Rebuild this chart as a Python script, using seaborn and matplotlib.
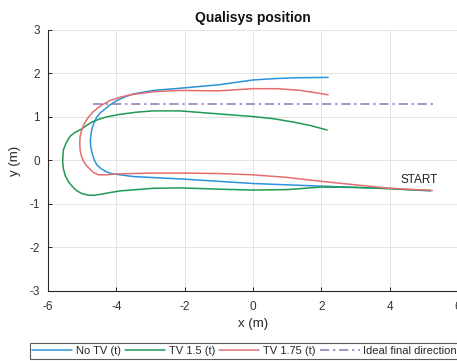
import numpy as np
import pandas as pd
import matplotlib
matplotlib.use("Agg")
import matplotlib.pyplot as plt
import seaborn as sns

# Trajectories measured by the Qualisys motion capture system (metres)
no_tv_x = [5.2, 4.5, 4.0, 3.0, 2.0, 1.0, 0.0, -1.0, -2.0, -3.0, -3.5, -3.89,
           -4.15, -4.32, -4.46, -4.57, -4.65, -4.71, -4.75, -4.76, -4.74, -4.71,
           -4.65, -4.57, -4.46, -4.32, -4.16, -3.98, -3.75, -3.5, -2.92, -2.14,
           -1.0, 0.0, 0.6, 1.2, 2.2]
no_tv_y = [-0.70, -0.67, -0.64, -0.62, -0.59, -0.56, -0.53, -0.48, -0.43, -0.39,
           -0.37, -0.33, -0.30, -0.25, -0.18, -0.10, 0.02, 0.17, 0.32, 0.47, 0.61,
           0.74, 0.87, 1.00, 1.10, 1.19, 1.29, 1.38, 1.46, 1.53, 1.61, 1.66,
           1.74, 1.85, 1.88, 1.90, 1.91]

tv15_x = [5.2, 4.5, 4.0, 3.0, 2.0, 1.0, 0.0, -1.0, -2.14, -2.92, -3.4, -3.89,
          -4.2, -4.47, -4.65, -4.81, -5.01, -5.15, -5.25, -5.38, -5.49, -5.55,
          -5.57, -5.56, -5.55, -5.47, -5.36, -5.22, -5.04, -4.88, -4.70, -4.50,
          -4.29, -3.90, -3.41, -2.92, -2.14, -1.0, 0.0, 0.6, 1.2, 1.7, 2.17]
tv15_y = [-0.69, -0.67, -0.65, -0.62, -0.61, -0.67, -0.68, -0.66, -0.63, -0.64,
          -0.67, -0.70, -0.74, -0.78, -0.80, -0.80, -0.76, -0.70, -0.63, -0.51,
          -0.36, -0.19, -0.02, 0.12, 0.24, 0.40, 0.55, 0.64, 0.71, 0.80, 0.89,
          0.95, 1.00, 1.06, 1.11, 1.14, 1.14, 1.07, 1.01, 0.96, 0.88, 0.80, 0.70]

tv175_x = [5.25, 4.5, 4.0, 3.0, 2.0, 1.0, 0.0, -1.0, -2.0, -3.0, -4.0, -4.3,
           -4.52, -4.66, -4.76, -4.87, -4.96, -5.02, -5.06, -5.07, -5.06, -5.02,
           -4.96, -4.89, -4.81, -4.70, -4.57, -4.39, -4.18, -3.90, -3.59, -2.92,
           -2.14, -1.0, 0.0, 0.7, 1.4, 2.2]
tv175_y = [-0.69, -0.66, -0.64, -0.56, -0.48, -0.39, -0.33, -0.30, -0.29, -0.29,
           -0.31, -0.33, -0.33, -0.28, -0.21, -0.12, -0.02, 0.10, 0.24, 0.40, 0.55,
           0.68, 0.81, 0.91, 1.00, 1.10, 1.19, 1.29, 1.38, 1.45, 1.51, 1.58, 1.61,
           1.60, 1.65, 1.65, 1.61, 1.51]

ideal_x = [-4.67, 5.3]
ideal_y = [1.3, 1.3]

series_names = ["No TV (t)", "TV 1.5 (t)", "TV 1.75 (t)", "Ideal final direction"]
series_colors = ["#2b93da", "#1f9a55", "#e36d6f", "#8a78b4"]

x_ticks = [-6, -4, -2, 0, 2, 4, 6]
y_ticks = [-3, -2, -1, 0, 1, 2, 3]

sns.set_theme(style="whitegrid")
plt.rcParams["font.family"] = ["Liberation Sans", "DejaVu Sans"]

fig = plt.figure(figsize=(4.57, 3.61), dpi=100)
ax = fig.add_axes([0.105, 0.194, 0.897, 0.723])

tracks = [(no_tv_x, no_tv_y), (tv15_x, tv15_y), (tv175_x, tv175_y)]
handles = []
for (xs, ys), name, col in zip(tracks, series_names[:3], series_colors[:3]):
    df = pd.DataFrame({"x": xs, "y": ys, "step": np.arange(len(xs))})
    sns.lineplot(data=df, x="x", y="y", sort=False, estimator=None,
                 color=col, lw=1.1, ax=ax)
    line = ax.lines[-1]
    line.set_solid_joinstyle("round")
    handles.append(line)

df_ideal = pd.DataFrame({"x": ideal_x, "y": ideal_y})
sns.lineplot(data=df_ideal, x="x", y="y", sort=False, estimator=None,
             color=series_colors[3], lw=1.1, ax=ax)
ideal_line = ax.lines[-1]
ideal_line.set_linestyle((0, (6, 2.5, 1.5, 2.5)))
handles.append(ideal_line)

ax.text(4.33, -0.44, "START", fontsize=8.5, color="#222222", ha="left", va="center")

ax.set_xlim(-6, 6)
ax.set_ylim(-3, 3)
ax.set_xticks(x_ticks)
ax.set_yticks(y_ticks)
ax.set_xticklabels([str(v) for v in x_ticks])
ax.set_yticklabels([str(v) for v in y_ticks])
ax.tick_params(axis="both", direction="in", length=3, width=0.7, color="#262626",
               labelcolor="#333333", labelsize=8.5, left=True, bottom=True)
ax.tick_params(axis="x", pad=7)
ax.tick_params(axis="y", pad=6)
ax.grid(True, color="#dedede", lw=0.6)
ax.set_facecolor("white")
for side in ["top", "right"]:
    ax.spines[side].set_visible(False)
for side in ["left", "bottom"]:
    ax.spines[side].set_visible(True)
    ax.spines[side].set_color("#262626")
    ax.spines[side].set_linewidth(0.8)

ax.set_xlabel("x (m)", fontsize=9.5, color="#262626", labelpad=4)
ax.set_ylabel("y (m)", fontsize=9.5, color="#262626", labelpad=6)
ax.set_title("Qualisys position", fontsize=10, fontweight="bold", color="#111111", pad=6)

leg = fig.legend(handles, series_names, loc="center", ncol=4,
                 bbox_to_anchor=(0.535, 0.028), fontsize=8, frameon=True,
                 fancybox=False, handlelength=3.6, handletextpad=0.3,
                 columnspacing=0.4, borderpad=0.25)
leg.get_frame().set_edgecolor("#333333")
leg.get_frame().set_linewidth(0.8)

fig.savefig("out.png", dpi=100, facecolor="white")
